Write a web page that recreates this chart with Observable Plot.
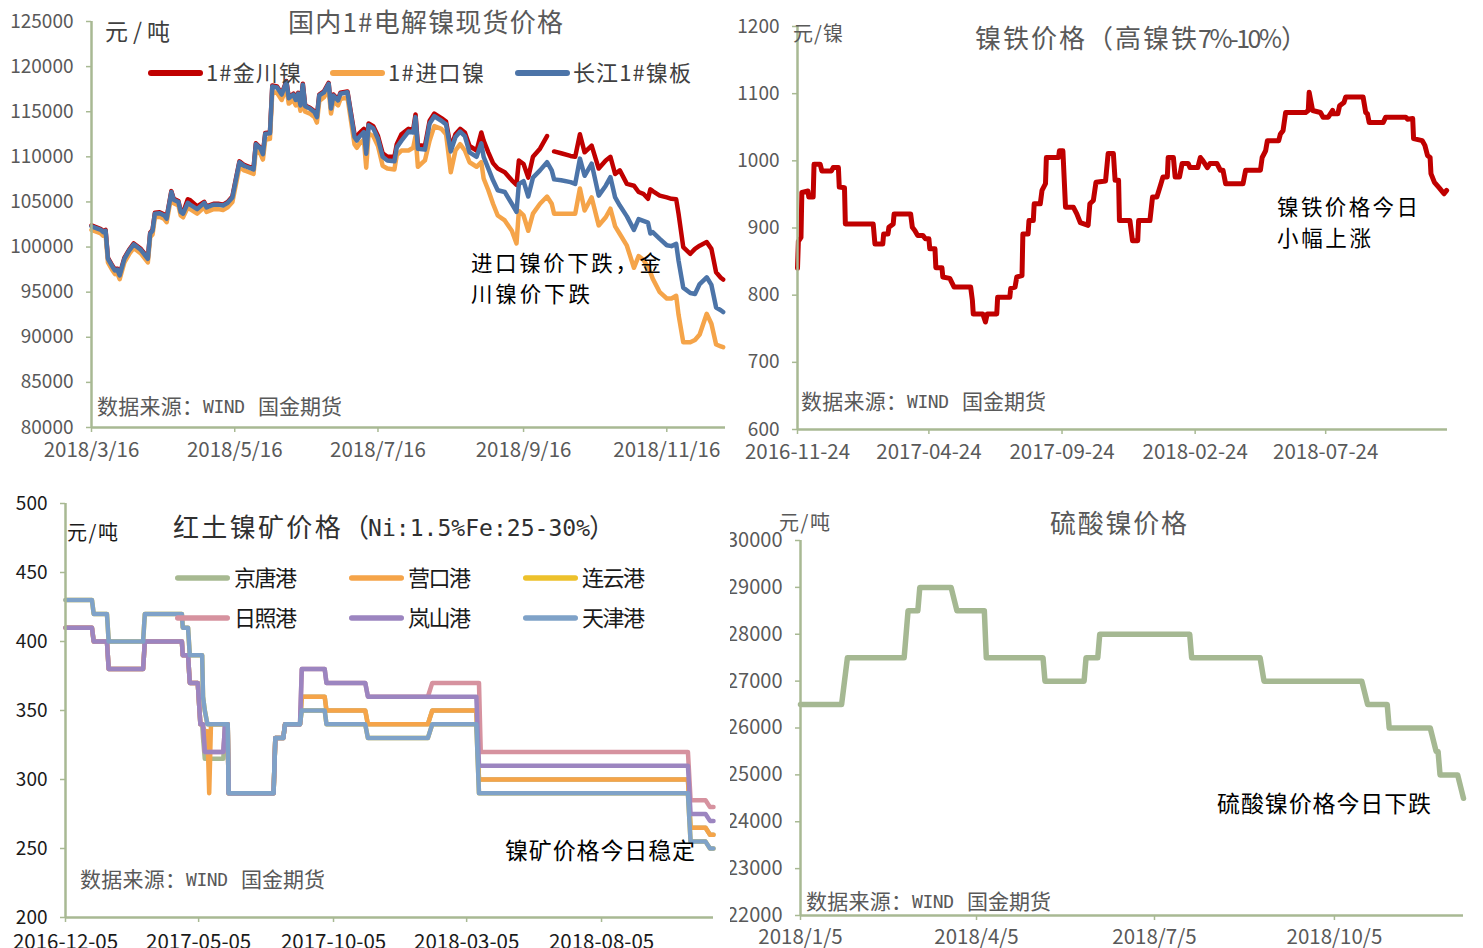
<!DOCTYPE html>
<html><head><meta charset="utf-8">
<script src="https://cdn.jsdelivr.net/npm/d3@7"></script>
<script src="https://cdn.jsdelivr.net/npm/@observablehq/plot@0.6"></script>
<style>
html,body{margin:0;padding:0;background:#fff;}
#root{position:relative;width:1483px;height:948px;overflow:hidden;background:#fff;}
#root svg{position:absolute;}
</style></head><body><div id="root"></div>
<script>
// ---------------- Panel 1: 国内1#电解镍现货价格 ----------------
const p1Dates = [
"2018-03-16","2018-03-20","2018-03-21","2018-03-22","2018-03-23","2018-03-25","2018-03-26","2018-03-27","2018-03-28","2018-03-30",
"2018-04-01","2018-04-03","2018-04-06","2018-04-09","2018-04-10","2018-04-11","2018-04-12","2018-04-14","2018-04-16","2018-04-17",
"2018-04-19","2018-04-20","2018-04-22","2018-04-23","2018-04-24","2018-04-26","2018-04-27","2018-04-30","2018-05-03","2018-05-04",
"2018-05-07","2018-05-09","2018-05-11","2018-05-13","2018-05-15","2018-05-16","2018-05-18","2018-05-20","2018-05-21","2018-05-24",
"2018-05-25","2018-05-27","2018-05-28","2018-05-29","2018-05-31","2018-06-01","2018-06-03","2018-06-05","2018-06-07","2018-06-08",
"2018-06-10","2018-06-11","2018-06-12","2018-06-13","2018-06-14","2018-06-15","2018-06-17","2018-06-19","2018-06-20","2018-06-21",
"2018-06-23","2018-06-25","2018-06-26","2018-06-27","2018-06-29","2018-06-30","2018-07-03","2018-07-06","2018-07-07","2018-07-08",
"2018-07-10","2018-07-11","2018-07-12","2018-07-14","2018-07-16","2018-07-18","2018-07-20","2018-07-23","2018-07-24","2018-07-26",
"2018-07-29","2018-07-31","2018-08-01","2018-08-02","2018-08-05","2018-08-07","2018-08-09","2018-08-12","2018-08-14","2018-08-16",
"2018-08-18","2018-08-20","2018-08-22","2018-08-24","2018-08-27","2018-08-29","2018-08-30","2018-09-01","2018-09-03","2018-09-05",
"2018-09-08","2018-09-11","2018-09-13","2018-09-14","2018-09-16","2018-09-18","2018-09-20","2018-09-23","2018-09-26","2018-09-28",
"2018-09-29","2018-10-02","2018-10-06","2018-10-08","2018-10-10","2018-10-12","2018-10-15","2018-10-18","2018-10-21","2018-10-23",
"2018-10-25","2018-10-27","2018-10-30","2018-11-02","2018-11-04","2018-11-06","2018-11-08","2018-11-09","2018-11-10","2018-11-13",
"2018-11-16","2018-11-18","2018-11-20","2018-11-21","2018-11-23","2018-11-26","2018-11-28","2018-11-30","2018-12-03","2018-12-05",
"2018-12-07","2018-12-09","2018-12-10"];
const p1Jinchuan = [
102400,102000,101750,101900,98800,97900,97500,97600,96950,98800,
99700,100400,99800,98800,101600,101900,103800,103850,103600,103250,
106200,105350,105100,104000,103800,105300,105200,104500,105000,104500,
104800,104800,104700,105000,105600,106900,109500,109100,109000,108700,
111500,111000,110400,112650,112700,117900,117800,117000,118400,116600,
117000,116400,117100,115800,118100,115700,115450,115050,114500,116900,
117250,118200,115450,116900,116350,117100,117250,112500,112100,112600,
113100,110600,113700,113400,112300,110400,110000,110000,111400,112500,
113100,113000,114700,111300,111200,114000,114800,114300,113900,111000,
112500,113100,112700,111200,110700,112700,111800,110500,109300,108700,
108300,107400,106900,109600,109200,107700,110000,110900,112300,null,
110600,110400,110100,110000,112500,110500,111250,108700,109600,110000,
108100,108500,107000,106800,106100,105900,105350,106400,106200,105700,
105500,105350,105300,103700,100000,99250,99800,100150,100550,99800,
97200,96600,96400];
const p1Import = [
101900,101500,101250,101400,98300,97400,97000,97100,96450,98300,
99200,99900,99300,98300,101100,101400,103300,103350,103100,102750,
105700,104850,104600,103500,103300,104400,104200,103700,104400,103900,
104200,104200,104100,104400,105000,106300,108900,108500,108400,108100,
110800,110300,109700,111900,112000,117200,117100,116300,117700,115900,
116300,115700,116400,115100,117400,115000,114800,114400,113800,116200,
116600,117500,114800,116200,115700,116400,116600,111400,111000,111400,
111900,108800,112600,112300,111200,109000,108700,108600,110200,110700,
110700,111000,112300,108900,109600,111800,113400,113100,112500,108300,
110700,111400,110700,109400,108900,109400,107600,106300,104800,103500,
102950,101800,100400,104000,103500,101800,103700,104800,105600,104800,
103700,103700,103700,103700,106500,104050,105500,102400,103300,104250,
102300,101450,100150,97700,99000,98600,97800,97200,96500,95000,
94300,94300,94600,92500,89450,89450,89700,90300,92600,91500,
89200,89000,88900];
const p1Changjiang = [
102300,101900,101650,101800,98700,97800,97400,97500,96850,98700,
99600,100300,99700,98700,101500,101800,103700,103750,103500,103150,
106100,105250,105000,103900,103700,104900,104700,104200,104900,104400,
104700,104700,104600,104900,105500,106800,109400,109000,108900,108600,
111400,110900,110300,112550,112600,117800,117700,116900,118300,116500,
116900,116300,117000,115700,118000,115600,115350,114950,114400,116800,
117150,118100,115350,116800,116250,117000,117150,112200,111800,112200,
112750,110350,113500,113150,112000,110000,109600,109500,111050,111800,
112800,112700,114400,110900,110800,113700,114500,114000,113600,110600,
112200,112800,112300,110500,110000,111500,110000,108700,107400,106300,
106100,104800,103900,107000,107300,105600,107700,108500,109400,108500,
107500,107400,107200,107000,109800,107900,109250,105700,106800,107750,
105500,104600,103400,101900,103100,102900,102700,101500,101650,100900,
100200,100100,100350,98500,95500,94900,94800,95900,96650,95800,
93300,93000,92800];
const p1SeriesNames = ["1#金川镍","1#进口镍","长江1#镍板"];
const p1XTicks = ["2018-03-16","2018-05-16","2018-07-16","2018-09-16","2018-11-16"];
const p1YTicks = [80000,85000,90000,95000,100000,105000,110000,115000,120000,125000];

// ---------------- Panel 2: 镍铁价格 ----------------
const p2Dates = [
"2016-11-24","2016-11-25","2016-11-28","2016-11-29","2016-12-06","2016-12-07","2016-12-12","2016-12-13","2016-12-20","2016-12-22",
"2017-01-02","2017-01-04","2017-01-10","2017-01-11","2017-01-17","2017-01-18","2017-02-19","2017-02-21","2017-03-02","2017-03-03",
"2017-03-08","2017-03-09","2017-03-14","2017-03-15","2017-04-03","2017-04-05","2017-04-08","2017-04-11","2017-04-17","2017-04-20",
"2017-04-24","2017-04-25","2017-05-01","2017-05-02","2017-05-09","2017-05-10","2017-05-18","2017-05-23","2017-06-11","2017-06-13",
"2017-06-14","2017-06-25","2017-06-28","2017-06-30","2017-07-11","2017-07-12","2017-07-26","2017-07-27","2017-08-01","2017-08-03",
"2017-08-09","2017-08-10","2017-08-16","2017-08-17","2017-08-22","2017-08-23","2017-08-30","2017-09-01","2017-09-05","2017-09-06",
"2017-09-20","2017-09-21","2017-09-25","2017-09-28","2017-10-07","2017-10-11","2017-10-15","2017-10-24","2017-10-26","2017-10-30",
"2017-11-02","2017-11-13","2017-11-16","2017-11-22","2017-11-24","2017-11-28","2017-11-29","2017-12-11","2017-12-14","2017-12-20",
"2017-12-21","2018-01-03","2018-01-06","2018-01-11","2018-01-15","2018-01-18","2018-01-23","2018-01-24","2018-01-30","2018-02-01",
"2018-02-06","2018-02-09","2018-02-16","2018-02-18","2018-02-27","2018-03-02","2018-03-05","2018-03-10","2018-03-13","2018-03-21",
"2018-03-25","2018-03-28","2018-03-31","2018-04-20","2018-04-23","2018-05-10","2018-05-12","2018-05-16","2018-05-18","2018-05-31",
"2018-06-02","2018-06-05","2018-06-08","2018-07-01","2018-07-04","2018-07-05","2018-07-09","2018-07-18","2018-07-21","2018-07-27",
"2018-08-01","2018-08-02","2018-08-07","2018-08-09","2018-08-14","2018-08-16","2018-09-05","2018-09-08","2018-09-10","2018-09-12",
"2018-09-28","2018-10-01","2018-10-24","2018-10-26","2018-11-01","2018-11-02","2018-11-12","2018-11-15","2018-11-18","2018-11-21",
"2018-11-22","2018-11-26","2018-12-02","2018-12-07","2018-12-10"];
const p2Values = [
840,880,886,953,955,946,946,995,995,985,
985,990,990,961,960,906,906,876,876,891,
891,901,906,921,921,901,896,889,889,884,
884,869,869,841,841,827,825,812,812,792,
772,772,760,772,772,797,797,810,812,827,
829,891,891,911,911,936,936,956,966,1005,
1005,1015,1015,931,931,921,908,904,936,941,
968,970,1011,1011,971,971,911,911,881,881,
911,911,946,946,963,976,976,1005,1005,976,
976,996,996,990,990,1005,1000,990,996,996,
986,986,966,966,986,986,1005,1015,1030,1030,
1040,1045,1072,1072,1075,1102,1075,1072,1065,1065,
1075,1070,1070,1082,1087,1095,1095,1072,1070,1057,
1057,1065,1065,1062,1063,1033,1030,1023,1008,1005,
981,968,959,951,956];
const p2XTicks = ["2016-11-24","2017-04-24","2017-09-24","2018-02-24","2018-07-24"];
const p2YTicks = [600,700,800,900,1000,1100,1200];

// ---------------- Panel 3: 红土镍矿价格 ----------------
const p3Dates = [
"2016-12-05","2017-01-04","2017-01-06","2017-01-21","2017-01-23","2017-03-03","2017-03-05","2017-04-16","2017-04-17","2017-04-23",
"2017-04-25","2017-05-04","2017-05-07","2017-05-09","2017-05-10","2017-05-12","2017-05-15","2017-05-17","2017-05-19","2017-06-02",
"2017-06-04","2017-06-07","2017-06-08","2017-07-29","2017-07-31","2017-08-09","2017-08-11","2017-08-28","2017-08-30","2017-09-25",
"2017-09-27","2017-11-10","2017-11-13","2018-01-20","2018-01-25","2018-03-16","2018-03-19","2018-03-21","2018-11-11","2018-11-14",
"2018-12-01","2018-12-06","2018-12-10"];
const p3Jingtang = [
410,410,400,400,380,380,400,400,390,390,
370,370,340,340,330,315,315,315,315,315,
340,340,290,290,330,330,340,340,360,360,
350,350,340,340,350,350,300,300,300,265,
265,260,260];
const p3Yingkou = [
410,410,400,400,380,380,400,400,390,390,
370,370,340,340,338,335,335,290,340,340,
340,340,290,290,330,330,340,340,360,360,
350,350,340,340,350,350,300,300,300,265,
265,260,260];
const p3Lianyun = [
430,430,420,420,400,400,420,420,410,410,
390,390,390,390,360,350,340,340,340,340,
340,340,290,290,330,330,340,340,350,350,
340,340,330,330,340,340,290,290,290,255,
255,250,250];
const p3Rizhao = [
410,410,400,400,380,380,400,400,390,390,
370,370,340,340,340,320,320,320,320,320,
340,340,290,290,330,330,340,340,380,380,
370,370,360,360,370,370,370,320,320,285,
285,280,280];
const p3Lanshan = [
410,410,400,400,380,380,400,400,390,390,
370,370,340,340,340,320,320,320,320,320,
340,340,290,290,330,330,340,340,380,380,
370,370,360,360,360,360,310,310,310,275,
275,270,270];
const p3Tianjin = [
430,430,420,420,400,400,420,420,410,410,
390,390,390,390,360,350,340,340,340,340,
340,340,290,290,330,330,340,340,350,350,
340,340,330,330,340,340,290,290,290,255,
255,250,250];
const p3SeriesNames = ["京唐港","营口港","连云港","日照港","岚山港","天津港"];
const p3XTicks = ["2016-12-05","2017-05-05","2017-10-05","2018-03-05","2018-08-05"];
const p3YTicks = [200,250,300,350,400,450,500];

// ---------------- Panel 4: 硫酸镍价格 ----------------
const p4Dates = ["2018-01-05","2018-01-26","2018-01-29","2018-02-27","2018-03-01","2018-03-06","2018-03-07","2018-03-23","2018-03-26","2018-04-09",
"2018-04-10","2018-05-09","2018-05-10","2018-05-30","2018-05-31","2018-06-06","2018-06-07","2018-07-23","2018-07-24","2018-08-28",
"2018-08-30","2018-10-19","2018-10-22","2018-11-01","2018-11-02","2018-11-23","2018-11-26","2018-11-27","2018-11-28","2018-12-07","2018-12-10"];
const p4Values = [26500,26500,27500,27500,28500,28500,29000,29000,28500,28500,
27500,27500,27000,27000,27500,27500,28000,28000,27500,27500,
27000,27000,26500,26500,26000,26000,25500,25500,25000,25000,24500];
const p4XTicks = ["2018-01-05","2018-04-05","2018-07-05","2018-10-05"];
const p4YTicks = [22000,23000,24000,25000,26000,27000,28000,29000,30000];

// ---------------- styling ----------------
const FONT = '"Noto Sans CJK SC","Noto Sans",sans-serif';
const MONO = '"DejaVu Sans Mono","Liberation Mono",monospace';
const AXIS = "#a8b993";
const GRAY = "#595959";
const root = document.getElementById("root");
const D = s => new Date(s);
const fmtSlash = d3.utcFormat("%Y/%-m/%-d");
const fmtDash = d3.utcFormat("%Y-%m-%d");

function rows(dates, vals) {
  return dates.map((d, i) => ({date: D(d), v: vals[i] == null ? NaN : vals[i]}));
}

function panel(cfg) {
  const lines = cfg.series.map(s => Plot.line(rows(cfg.dates, s.values), {
    x: "date", y: "v", stroke: s.color, strokeWidth: cfg.lw,
    strokeLinejoin: "round", strokeLinecap: "round"
  }));
  const svg = Plot.plot({
    width: cfg.width, height: cfg.height,
    marginTop: cfg.mt, marginRight: cfg.mr, marginBottom: cfg.mb, marginLeft: cfg.ml,
    style: {fontFamily: FONT, fontSize: (cfg.fs || 19) + "px", color: cfg.labelColor, background: "transparent", overflow: "hidden"},
    x: {type: "utc", domain: cfg.xDomain.map(D)},
    y: {type: "linear", domain: cfg.yDomain},
    marks: [
      Plot.axisX({ticks: cfg.xTicks.map(D), tickFormat: cfg.xFmt, tickSize: 5, tickPadding: cfg.xPad,
        stroke: AXIS, fill: cfg.labelColor, strokeWidth: 1.5, label: null, fontSize: 20.5}),
      Plot.axisY({ticks: cfg.yTicks, tickFormat: d => String(d), tickSize: 5, tickPadding: 13,
        stroke: AXIS, fill: cfg.labelColor, strokeWidth: 1.5, label: null}),
      ...lines,
      Plot.ruleY([cfg.yDomain[0]], {stroke: AXIS, strokeWidth: 2.5}),
      Plot.ruleX([D(cfg.xDomain[0])], {stroke: AXIS, strokeWidth: 2.5})
    ]
  });
  svg.style.position = "absolute";
  svg.style.left = cfg.left + "px";
  svg.style.top = cfg.top + "px";
  svg.style.maxWidth = "none";
  root.appendChild(svg);
}

// Panel 1
panel({left: 0, top: 0, width: 730, height: 470, mt: 21, mr: 5, mb: 43, ml: 91,
  xDomain: ["2018-03-16", "2018-12-11"], xTicks: p1XTicks, xFmt: fmtSlash, xPad: 10,
  yDomain: [80000, 125000], yTicks: p1YTicks, labelColor: GRAY, lw: 4.5, dates: p1Dates,
  series: [
    {values: p1Jinchuan, color: "#c00000"},
    {values: p1Import, color: "#f5a449"},
    {values: p1Changjiang, color: "#4c74a8"}
  ]});

// Panel 2
panel({left: 730, top: 0, width: 753, height: 470, mt: 26, mr: 36, mb: 41, ml: 67,
  xDomain: ["2016-11-24", "2018-12-11"], xTicks: p2XTicks, xFmt: fmtDash, xPad: 10,
  yDomain: [600, 1200], yTicks: p2YTicks, labelColor: GRAY, lw: 5, dates: p2Dates,
  series: [{values: p2Values, color: "#c00000"}]});

// Panel 3
const p3Colors = ["#a7b991", "#f5a449", "#edc12b", "#d6929f", "#9c85c0", "#7fa2c8"];
panel({left: 0, top: 470, width: 730, height: 478, mt: 33, mr: 17, mb: 31, ml: 65,
  xDomain: ["2016-12-05", "2018-12-10"], xTicks: p3XTicks, xFmt: fmtDash, xPad: 12,
  yDomain: [200, 500], yTicks: p3YTicks, labelColor: "#1a1a1a", lw: 4.5, dates: p3Dates,
  series: [p3Jingtang, p3Yingkou, p3Lianyun, p3Rizhao, p3Lanshan, p3Tianjin].map((v, i) => ({values: v, color: p3Colors[i]}))});

// Panel 4
panel({left: 730, top: 470, width: 753, height: 478, mt: 70, mr: 20, mb: 33, ml: 70, fs: 20,
  xDomain: ["2018-01-05", "2018-12-10"], xTicks: p4XTicks, xFmt: fmtSlash, xPad: 9,
  yDomain: [22000, 30000], yTicks: p4YTicks, labelColor: GRAY, lw: 5.5, dates: p4Dates,
  series: [{values: p4Values, color: "#a5b892"}]});

// ---------------- overlay: titles, legends, notes ----------------
const ov = d3.select(root).append("svg").attr("width", 1483).attr("height", 948)
  .style("left", "0px").style("top", "0px");

function txt(t, x, cy, f, color, len, font) {
  const el = ov.append("text").attr("x", x).attr("y", cy + 0.38 * f)
    .attr("font-family", font || FONT).attr("font-size", f).attr("fill", color).text(t);
  if (len) el.attr("textLength", len).attr("lengthAdjust", "spacing");
}
function swatch(x1, x2, y, color, w) {
  ov.append("line").attr("x1", x1 + w / 2).attr("x2", x2 - w / 2).attr("y1", y).attr("y2", y)
    .attr("stroke", color).attr("stroke-width", w).attr("stroke-linecap", "round");
}
function source(x0, cy) {
  txt("数据来源：", x0, cy, 21, GRAY, 106);
  txt("WIND", x0 + 106, cy, 18, GRAY, 42, MONO);
  txt("国金期货", x0 + 161, cy, 21, GRAY, 84);
}

// Panel 1 texts
txt("国内1#电解镍现货价格", 288, 22, 26, GRAY, 275);
txt("元/吨", 105, 31, 23, "#404040", 65);
const p1Colors = ["#c00000", "#f5a449", "#4c74a8"];
[[148, 206, 95], [330, 388, 96], [515, 573, 118]].forEach(([sx, tx, tl], i) => {
  swatch(sx, sx + 55, 73, p1Colors[i], 6);
  txt(p1SeriesNames[i], tx, 73, 22, "#404040", tl);
});
txt("进口镍价下跌，金", 471, 262.5, 21.5, "#000", 190);
txt("川镍价下跌", 471, 293.5, 21.5, "#000", 119);
source(97, 406);

// Panel 2 texts
txt("镍铁价格（高镍铁", 975, 38, 26, GRAY, 222);
txt("7%-10%", 1198, 38, 25, GRAY, 84);
txt("）", 1281, 38, 26, GRAY);
txt("元/镍", 793, 33, 20, GRAY, 50);
txt("镍铁价格今日", 1277, 206.5, 21.5, "#000", 141);
txt("小幅上涨", 1277, 237.5, 21.5, "#000", 94);
source(801, 401);

// Panel 3 texts
txt("红土镍矿价格（", 173, 527, 26, "#303030", 196);
txt("Ni:1.5%Fe:25-30%", 368, 527, 23, "#303030", 222, MONO);
txt("）", 589, 527, 26, "#303030");
txt("元/吨", 67, 532, 20, "#1a1a1a", 51);
[[175, 234], [349, 408], [523, 582]].forEach(([sx, tx], c) => {
  [578, 618].forEach((y, r) => {
    const i = r * 3 + c;
    swatch(sx, sx + 55, y, p3Colors[i], 5.5);
    txt(p3SeriesNames[i], tx, y, 22, "#1a1a1a", 63);
  });
});
txt("镍矿价格今日稳定", 505, 850, 23, "#000", 190);
source(80, 879);

// Panel 4 texts
txt("硫酸镍价格", 1050, 523, 26, GRAY, 137);
txt("元/吨", 779, 522, 20, GRAY, 51);
txt("硫酸镍价格今日下跌", 1217, 803, 23, "#000", 214);
source(806, 901);
</script></body></html>
